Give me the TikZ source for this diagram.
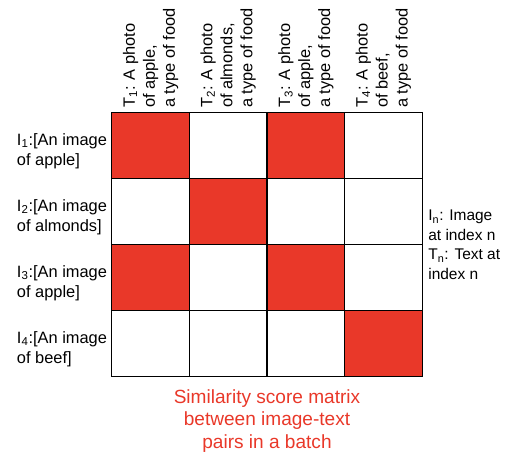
\documentclass[tikz,border=0pt]{standalone}
\usepackage{fontspec}
\setmainfont{Liberation Sans}
\usepackage{tikz}
\usetikzlibrary{
  positioning,
  calc
}
\definecolor{simred}{RGB}{233, 56, 41}
\tikzset{
  cell/.style={
    draw, line width=0.8pt,
    minimum width=58.24pt,
    minimum height=49.5pt,
    inner sep=0pt, outer sep=0pt
  },
  cell0/.style={cell, fill=white},
  cell1/.style={cell, fill=simred},
  lbl/.style={font=\fontsize{12.3}{15}\selectfont, align=left}
}

\begin{document}
\begin{tikzpicture}[
  x=0.75pt, y=0.75pt,
  hdr/.style={lbl, rotate=90, anchor=west},
  nota/.style={font=\fontsize{11.6}{14.6}\selectfont, align=left},
  caption/.style={font=\fontsize{14.3}{17}\selectfont, align=center, text=simred},
]

\useasboundingbox (0,0) rectangle (530,462);

% Matriz de similitud
\foreach \r/\lista in {1/{1,0,1,0}, 2/{0,1,0,0}, 3/{1,0,1,0}, 4/{0,0,0,1}}
  \foreach \m [count=\c] in \lista
    \node[cell\m] (c\r\c) at ({111.7+(\c-0.5)*77.65}, {349.3-(\r-0.5)*66}) {};

% Textos (arriba)
\node[hdr] (t1) at (c11.north) {T\textsubscript{1}: A photo\\of apple,\\a type of food};
\node[hdr] (t2) at (c12.north) {T\textsubscript{2}: A photo\\of almonds,\\a type of food};
\node[hdr] (t3) at (c13.north) {T\textsubscript{3}: A photo\\of apple,\\a type of food};
\node[hdr] (t4) at (c14.north) {T\textsubscript{4}: A photo\\of beef,\\a type of food};

% Imagenes (izquierda)
\node[lbl, anchor=east, yshift=-4pt] (i1) at (c11.west) {I\textsubscript{1}:[An image\\of apple]};
\node[lbl, anchor=east, yshift=-4pt] (i2) at (c21.west) {I\textsubscript{2}:[An image\\of almonds]};
\node[lbl, anchor=east, yshift=-4pt] (i3) at (c31.west) {I\textsubscript{3}:[An image\\of apple]};
\node[lbl, anchor=east, yshift=-4pt] (i4) at (c41.west) {I\textsubscript{4}:[An image\\of beef]};

% Leyenda y titulo
\node[nota, anchor=west] (leyenda) at ([xshift=1pt]c24.south east)
  {I\textsubscript{n}: Image\\at index n\\T\textsubscript{n}: Text at\\index n};
\node[caption, anchor=north] (titulo) at ([yshift=-6pt]c42.south east)
  {Similarity score matrix\\between image-text\\pairs in a batch};

\end{tikzpicture}
\end{document}
